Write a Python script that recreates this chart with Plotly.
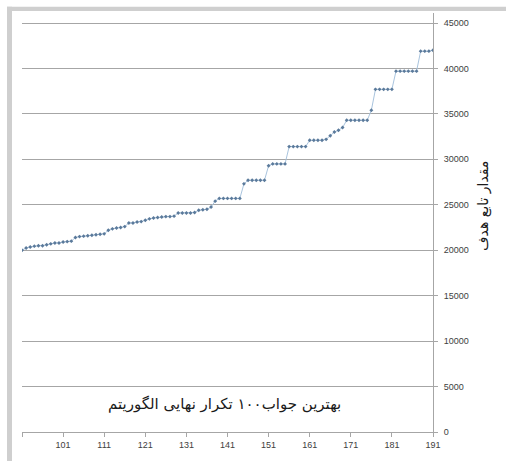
import plotly.graph_objects as go

# Iteration numbers of the last 100 iterations and the best objective value found so far
iterations = list(range(91, 192))
best_value = [
    20000, 20250, 20350, 20450, 20500, 20500, 20600, 20700, 20800, 20800, 20900, 20950, 21000,
    21400, 21500, 21550, 21600, 21650, 21700, 21750, 21800,
    22200, 22350, 22450, 22500, 22600,
    23000, 23000, 23100, 23150, 23300,
    23450, 23550, 23600, 23650, 23700, 23700, 23750,
    24100, 24100, 24100, 24100, 24150,
    24400, 24450, 24500, 24750,
    25400,
    25700, 25700, 25700, 25700, 25700, 25700,
    27300,
    27700, 27700, 27700, 27700, 27700,
    29300,
    29500, 29500, 29500, 29500,
    31400, 31400, 31400, 31400, 31400,
    32100, 32100, 32100, 32100, 32200,
    32600, 33000, 33200, 33500,
    34300, 34300, 34300, 34300, 34300, 34300,
    35400,
    37700, 37700, 37700, 37700, 37700,
    39700, 39700, 39700, 39700, 39700, 39700,
    41900, 41900, 41900, 42000,
]

x_tickvals = list(range(91, 192, 10))
x_ticktext = [""] + [str(v) for v in x_tickvals[1:]]
y_tickvals = list(range(0, 45001, 5000))
y_ticktext = [str(v) for v in y_tickvals]

y_title = "مقدار تابع هدف"
note_text = "بهترین جواب۱۰۰ تکرار نهایی الگوریتم"

fig = go.Figure()
fig.add_trace(go.Scatter(
    x=iterations,
    y=best_value,
    mode="lines+markers",
    line=dict(color="#a9c4de", width=1),
    marker=dict(color="#5b7a9b", size=3, symbol="diamond"),
    showlegend=False,
    hoverinfo="x+y",
))

axis_gray = "#a6a6a6"
# plot area: x 22..433 px, y 13..432 px (0 at 432, 45000 at 23)
y_top = 46100
fig.update_layout(
    width=506,
    height=461,
    margin=dict(l=22, r=73, t=13, b=29),
    paper_bgcolor="white",
    plot_bgcolor="white",
    font=dict(family="Liberation Sans, Arial, sans-serif", size=9, color="#404040"),
    xaxis=dict(
        range=[91, 191],
        tickvals=x_tickvals,
        ticktext=x_ticktext,
        ticks="outside",
        ticklen=4,
        tickcolor=axis_gray,
        showline=True,
        linecolor=axis_gray,
        linewidth=1,
        showgrid=False,
        zeroline=False,
        tickfont=dict(size=9, color="#404040"),
    ),
    yaxis=dict(
        range=[0, y_top],
        side="right",
        tickvals=y_tickvals,
        ticktext=y_ticktext,
        ticks="outside",
        ticklen=4,
        tickcolor=axis_gray,
        showline=True,
        linecolor=axis_gray,
        linewidth=1,
        showgrid=True,
        gridcolor=axis_gray,
        gridwidth=1,
        zeroline=False,
        tickfont=dict(size=9, color="#404040"),
        ticklabelstandoff=4,
    ),
    shapes=[
        # window frame along the top and left edges
        dict(type="rect", xref="paper", yref="paper",
             x0=-0.0365, x1=1.18, y0=1.005, y1=1.015,
             fillcolor="#cfcfcf", line=dict(width=0), layer="above"),
        dict(type="rect", xref="paper", yref="paper",
             x0=-0.0365, x1=-0.0243, y0=-0.08, y1=1.015,
             fillcolor="#cfcfcf", line=dict(width=0), layer="above"),
    ],
    annotations=[
        dict(text=y_title, xref="paper", yref="paper",
             x=1.15, y=0.54, textangle=-90, showarrow=False,
             font=dict(family="DejaVu Sans", size=14, color="#1a1a1a")),
        dict(text=note_text, xref="paper", yref="paper",
             x=0.4915, y=0.04, showarrow=False,
             font=dict(family="DejaVu Serif, DejaVu Sans", size=15, color="#1a1a1a")),
    ],
)

fig.write_html("out.html")
